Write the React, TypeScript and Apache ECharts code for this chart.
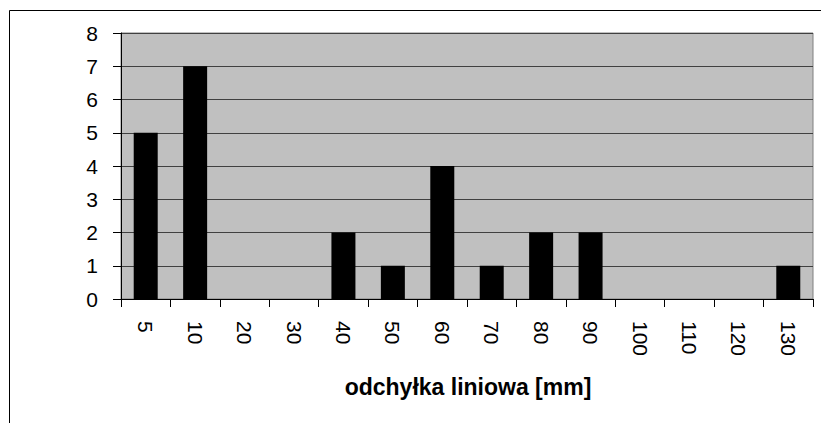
import React, { useEffect, useRef } from "react";
import * as echarts from "echarts";

const categories = ["5", "10", "20", "30", "40", "50", "60", "70", "80", "90", "100", "110", "120", "130"];
const counts = [5, 7, 0, 0, 2, 1, 4, 1, 2, 2, 0, 0, 0, 1];
const axisTitle = "odchyłka liniowa [mm]";

export default function App() {
  const ref = useRef<HTMLDivElement>(null);
  useEffect(() => {
    if (!ref.current) return;
    const chart = echarts.init(ref.current, undefined, { renderer: "svg" });
    chart.setOption({
      animation: false,
      backgroundColor: "#ffffff",
      textStyle: { fontFamily: "Liberation Sans, Arial, sans-serif" },
      grid: {
        left: 121,
        top: 33,
        width: 692,
        height: 266,
        show: true,
        backgroundColor: "#c0c0c0",
        borderColor: "#808080",
        borderWidth: 1,
      },
      xAxis: {
        type: "category",
        data: categories,
        axisLine: { show: true, lineStyle: { color: "#000", width: 1 } },
        axisTick: { show: true, alignWithLabel: false, length: 8, lineStyle: { color: "#000" } },
        axisLabel: {
          rotate: -90,
          margin: 22,
          fontSize: 21,
          color: "#000",
          fontFamily: "Liberation Sans, Arial, sans-serif",
          interval: 0,
        },
      },
      yAxis: {
        type: "value",
        min: 0,
        max: 8,
        interval: 1,
        axisLine: { show: true, lineStyle: { color: "#000", width: 1 } },
        axisTick: { show: true, length: 8, lineStyle: { color: "#000" } },
        axisLabel: {
          margin: 23,
          fontSize: 21,
          color: "#000",
          fontFamily: "Liberation Sans, Arial, sans-serif",
        },
        splitLine: { show: true, lineStyle: { color: "#404040", width: 1 } },
      },
      series: [
        {
          type: "bar",
          data: counts,
          barWidth: 24,
          itemStyle: { color: "#000000" },
        },
      ],
      graphic: [
        {
          type: "rect",
          shape: { x: 9.5, y: 10.5, width: 900, height: 500 },
          style: { fill: "none", stroke: "#000", lineWidth: 1 },
          silent: true,
        },
        {
          type: "text",
          x: 468,
          y: 387,
          style: {
            text: axisTitle,
            fontSize: 23,
            fontWeight: "bold",
            fill: "#000",
            align: "center",
            verticalAlign: "middle",
            fontFamily: "Liberation Sans, Arial, sans-serif",
          },
        },
      ],
    });
    return () => chart.dispose();
  }, []);
  return (
    <div
      ref={ref}
      style={{ position: "fixed", left: 0, top: 0, width: 821, height: 423, background: "#fff" }}
    />
  );
}
